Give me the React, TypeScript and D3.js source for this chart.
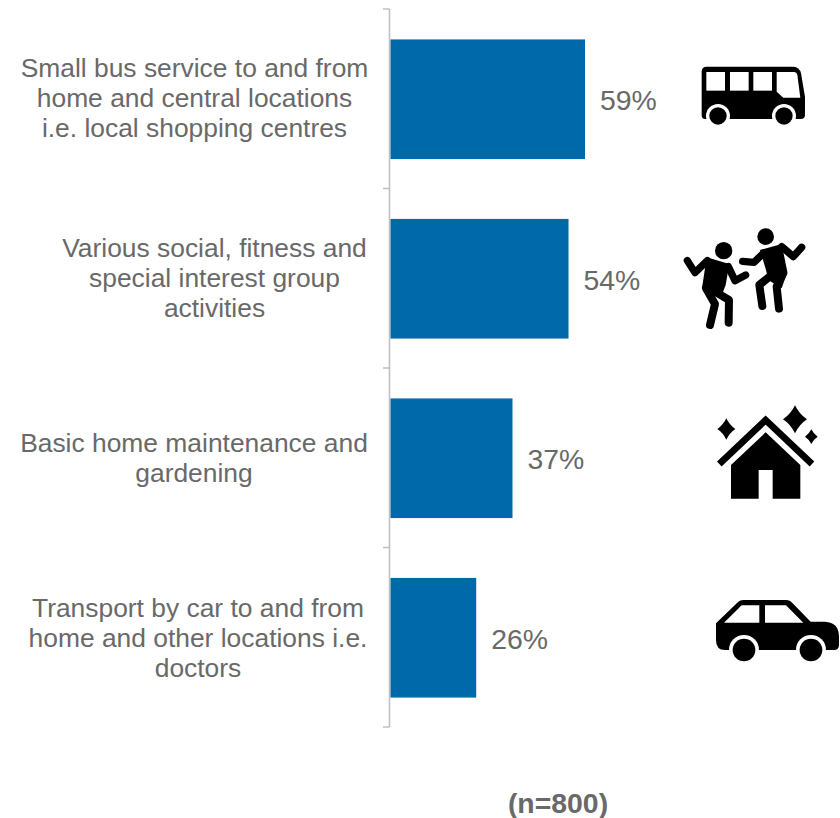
import React from "react";
import * as d3 from "d3";

const categories = ["bus", "social", "home", "car"];
const values = [59, 54, 37, 26];
const labelLines = [
  ["Small bus service to and from", "home and central locations", "i.e. local shopping centres"],
  ["Various social, fitness and", "special interest group", "activities"],
  ["Basic home maintenance and", "gardening"],
  ["Transport by car to and from", "home and other locations i.e.", "doctors"],
];
const labelCentres = [194.5, 214.5, 194, 198];
const labelNudges = [-0.5, 0, 0, 1];
const footnote = "(n=800)";

const TEXT = "#696969";
const BAR = "#0069AA";
const AXIS = "#BFBFBF";
const FONT = "'Liberation Sans', Arial, sans-serif";

const x = d3.scaleLinear().domain([0, 59]).range([390.5, 585]);
const y = d3.scaleBand<string>().domain(categories).range([9.5, 727.5]).paddingInner(1 / 3).paddingOuter(1 / 6);
const tickYs = d3.range(categories.length + 1).map((i) => 9 + (i * (727 - 9)) / categories.length);

function star(cx: number, cy: number, rx: number, ry: number) {
  const k = 0.36;
  return `M${cx},${cy - ry} Q${cx + rx * k},${cy - ry * k} ${cx + rx},${cy} Q${cx + rx * k},${cy + ry * k} ${cx},${cy + ry} Q${cx - rx * k},${cy + ry * k} ${cx - rx},${cy} Q${cx - rx * k},${cy - ry * k} ${cx},${cy - ry}Z`;
}

const Bus = () => (
  <g transform="translate(680,40) scale(0.3333)">
    <path d="M65,95 Q65,80 80,80 H340 Q358,80 363,100 L375,170 V225 Q375,237 362,237 H75 Q65,237 65,225 Z" fill="#000" />
    <rect x={79} y={96} width={56} height={56} fill="#fff" />
    <rect x={150} y={96} width={56} height={56} fill="#fff" />
    <rect x={220} y={96} width={56} height={56} fill="#fff" />
    <path d="M290,96 H343 Q350,96 352,104 L361,173 H310 L290,155 Z" fill="#fff" />
    <circle cx={114} cy={228} r={36} fill="#fff" />
    <circle cx={312} cy={228} r={36} fill="#fff" />
    <circle cx={114} cy={228} r={26} fill="#000" />
    <circle cx={312} cy={228} r={26} fill="#000" />
  </g>
);

const limb = { fill: "none", stroke: "#000", strokeWidth: 22, strokeLinecap: "round" as const, strokeLinejoin: "round" as const };
const Dancers = () => (
  <g transform="translate(680,40) scale(0.3333)">
    <circle cx={131} cy={632} r={26} fill="#000" />
    <path d="M80,652 L148,672 L137,735 L122,775 L66,745 Z" fill="#000" />
    <polyline points="22,662 45,698 82,662" {...limb} />
    <polyline points="145,680 165,722 197,705" {...limb} />
    <polyline points="78,745 105,792 90,855" {...limb} strokeWidth={24} />
    <polyline points="105,755 147,780 146,848" {...limb} strokeWidth={24} />
    <circle cx={257} cy={590} r={25} fill="#000" />
    <path d="M240,630 L305,612 L322,695 L305,745 L265,720 L258,690 Z" fill="#000" />
    <polyline points="188,664 222,667 250,640" {...limb} />
    <polyline points="305,620 340,650 365,622" {...limb} />
    <polyline points="310,700 290,740 297,806" {...limb} strokeWidth={24} />
    <polyline points="275,705 238,735 247,798" {...limb} strokeWidth={24} />
  </g>
);

const House = () => (
  <g transform="translate(680,390) scale(0.3333)">
    <polyline points="118,222 257,90 396,222" fill="none" stroke="#000" strokeWidth={20} />
    <path d="M153,225 L257,127 L361,225 V326 H278 V240 H236 V326 H153 Z" fill="#000" />
    <path d={star(139, 117, 27, 32)} fill="#000" />
    <path d={star(345, 88, 36, 42)} fill="#000" />
    <path d={star(394, 140, 19, 22)} fill="#000" />
  </g>
);

const Car = () => (
  <g transform="translate(680,390) scale(0.3333)">
    <path d="M108,700 L175,635 Q180,630 190,630 H320 Q330,630 338,640 L392,695 H435 Q477,697 477,740 V765 Q477,780 462,780 H135 Q108,780 108,750 Z" fill="#000" />
    <path d="M132,698 L185,646 H238 V698 Z" fill="#fff" />
    <path d="M255,646 H318 L370,698 H255 Z" fill="#fff" />
    <circle cx={192} cy={780} r={45} fill="#fff" />
    <circle cx={393} cy={780} r={45} fill="#fff" />
    <circle cx={192} cy={780} r={34} fill="#000" />
    <circle cx={393} cy={780} r={34} fill="#000" />
  </g>
);

export default function App() {
  return (
    <svg width={840} height={818} style={{ position: "absolute", left: 0, top: 0, background: "#fff" }} fontFamily={FONT}>
      {/* axis */}
      <line x1={389.5} x2={389.5} y1={9} y2={727} stroke={AXIS} strokeWidth={1.5} />
      {tickYs.map((t) => (
        <line key={t} x1={383} x2={389.5} y1={t} y2={t} stroke={AXIS} strokeWidth={1.5} />
      ))}
      {/* bars */}
      {categories.map((c, i) => (
        <rect key={c} x={x(0)} y={y(c)} width={x(values[i]) - x(0)} height={y.bandwidth()} fill={BAR} />
      ))}
      {/* value labels */}
      {categories.map((c, i) => (
        <text key={c} x={x(values[i]) + 15} y={y(c)! + y.bandwidth() / 2 + 11} fontSize={28.4} fill={TEXT}>
          {values[i]}%
        </text>
      ))}
      {/* category labels */}
      {categories.map((c, i) => {
        const lines = labelLines[i];
        const mid = y(c)! + y.bandwidth() / 2;
        return (
          <text key={c} fontSize={26.4} fill={TEXT} textAnchor="middle">
            {lines.map((l, j) => (
              <tspan key={j} x={labelCentres[i]} y={mid + (j - (lines.length - 1) / 2) * 30 + 8.5 + labelNudges[i]}>
                {l}
              </tspan>
            ))}
          </text>
        );
      })}
      <Bus />
      <Dancers />
      <House />
      <Car />
      <text x={558} y={813} fontSize={28.4} fontWeight="bold" fill={TEXT} textAnchor="middle">
        {footnote}
      </text>
    </svg>
  );
}
